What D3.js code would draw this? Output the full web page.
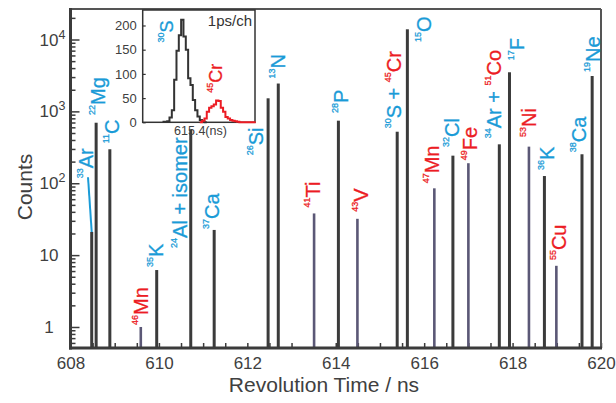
<!DOCTYPE html>
<html>
<head>
<meta charset="utf-8">
<script src="https://cdn.jsdelivr.net/npm/d3@7"></script>
<style>
  body { margin: 0; background: #fff; }
  svg { display: block; }
  text { font-family: "Liberation Sans", Arial, sans-serif; }
</style>
</head>
<body>
<svg id="chart" width="616" height="403"></svg>
<script>
// Peak labels: {..} = mass number (superscript), [..] = part written in red
var peakLabels = ["{33}Ar", "{22}Mg", "{11}C", "{46}Mn", "{35}K", "{24}Al + isomer", "{37}Ca",
                  "{26}Si", "{13}N", "{41}Ti", "{28}P", "{43}V", "{30}S + [{45}Cr]", "{15}O",
                  "{47}Mn", "{32}Cl", "{49}Fe", "{34}Ar + [{51}Co]", "{17}F", "{53}Ni", "{36}K",
                  "{55}Cu", "{38}Ca", "{19}Ne"];
var peakGroup = ["b", "b", "b", "r", "b", "b", "b",
                 "b", "b", "r", "b", "r", "b", "b",
                 "r", "b", "r", "b", "b", "r", "b",
                 "r", "b", "b"];
var peakTimes = [608.48, 608.58, 608.89, 609.59, 609.95, 610.72, 611.25,
                 612.47, 612.70, 613.51, 614.06, 614.49, 615.39, 615.62,
                 616.23, 616.65, 617.00, 617.70, 617.93, 618.37, 618.72,
                 618.99, 619.57, 619.80];
var peakCounts = [21, 695, 297, 1, 6.2, 551, 22.4,
                  1520, 2440, 38, 742, 32, 521, 13870,
                  85, 242, 190, 348, 3500, 323, 126,
                  7.1, 253, 3105];

var xTickLabels = [608, 610, 612, 614, 616, 618, 620];
var yTickLabels = [1, 10, 100, 1000, 10000];

// inset: 1 ps channels around 615.4 ns (offsets in ps)
var insetBlackStart = -16;
var insetBlack = [1, 1, 2, 10, 25, 88, 148, 180, 212, 177, 150, 91, 77, 46, 25, 12, 5, 2, 0];
var insetRedStart = 0;
var insetRed = [0, 3, 8, 22, 30, 33, 37, 45, 44, 30, 22, 11, 8, 5, 3, 2, 1, 0, 0, 0, 0, 0, 0, 0];
var insetTicks = [0, 50, 100, 150, 200];

// label nudges [dx, dy] from the top of each bar
var labelNudge = [[-5.7, -53.7], [1.5, -7.7], [1.5, -6], [0, -2], [-1, -3], [-11, 118], [-2.5, -1],
                  [-12, 57], [0, -5], [-1, -6], [2, -7.7], [3, -7], [-3, -3.4], [16, 12.7],
                  [-3, -5], [-1, -8.7], [1, -3], [-6, -6], [7, -12], [0, -9.7], [2, -6],
                  [2, -5.7], [-3.5, -2], [1, -4]];

var BLUE = "#1a9bd7", RED = "#ec1c24", DARK = "#3b3b3b", PURPLE = "#5b5876";

var svg = d3.select("#chart");
var mLeft = 70.5, mRight = 601, mTop = 9, mBottom = 348;

var x = d3.scaleLinear().domain([608, 620]).range([mLeft, mRight]);
var y = d3.scaleLog().domain([0.51, 26570]).range([mBottom, mTop]);

// x ticks every 0.5 ns, inward
var xAxis = d3.axisBottom(x)
  .tickValues(d3.range(608, 620.001, 0.5))
  .tickSize(-5)
  .tickPadding(9)
  .tickFormat(function(d) { return xTickLabels.indexOf(d) >= 0 ? d : ""; });

var gx = svg.append("g")
  .attr("transform", "translate(0," + mBottom + ")")
  .call(xAxis);
gx.select(".domain").remove();
gx.selectAll("line").attr("stroke", DARK).attr("stroke-width", 1.5);
gx.selectAll("text")
  .attr("font-size", 17)
  .attr("fill", "#404040")
  .style("font-family", "'Liberation Sans', Arial, sans-serif");

// y ticks: log minor + major, inward
var yAxis = d3.axisLeft(y).tickValues(y.ticks()).tickSize(-5).tickFormat("");
var gy = svg.append("g")
  .attr("transform", "translate(" + mLeft + ",0)")
  .call(yAxis);
gy.select(".domain").remove();
gy.selectAll("line")
  .attr("stroke", DARK)
  .attr("stroke-width", 1.5)
  .attr("x2", function(d) { return yTickLabels.indexOf(d) >= 0 ? 9 : 5; });

// y tick labels (powers of ten)
yTickLabels.forEach(function(v) {
  var e = Math.round(Math.log10(v));
  var ty = y(v) + 6;
  if (e < 2) {
    svg.append("text").attr("x", 49).attr("y", ty)
      .attr("text-anchor", "middle").attr("font-size", 17).attr("fill", "#404040")
      .text(v);
  } else {
    svg.append("text").attr("x", 49).attr("y", ty)
      .attr("text-anchor", "middle").attr("font-size", 17).attr("fill", "#404040")
      .text("10");
    svg.append("text").attr("x", 58.5).attr("y", ty - 7)
      .attr("font-size", 12.5).attr("fill", "#404040")
      .text(e);
  }
});

// bars
svg.append("g").selectAll("rect")
  .data(peakTimes)
  .enter().append("rect")
  .attr("x", function(d, i) { return x(d) - (peakGroup[i] === "r" ? 1.3 : 1.5); })
  .attr("width", function(d, i) { return peakGroup[i] === "r" ? 2.6 : 3; })
  .attr("y", function(d, i) { return y(peakCounts[i]); })
  .attr("height", function(d, i) { return mBottom - y(peakCounts[i]); })
  .attr("fill", function(d, i) { return peakGroup[i] === "r" ? PURPLE : DARK; });

// frame
svg.append("line").attr("x1", mLeft).attr("x2", mRight).attr("y1", mTop).attr("y2", mTop)
  .attr("stroke", "#555").attr("stroke-width", 2);
svg.append("line").attr("x1", mRight).attr("x2", mRight).attr("y1", mTop).attr("y2", mBottom)
  .attr("stroke", "#555").attr("stroke-width", 2);
svg.append("line").attr("x1", mLeft).attr("x2", mLeft).attr("y1", mTop - 1).attr("y2", mBottom + 1.5)
  .attr("stroke", DARK).attr("stroke-width", 3);
svg.append("line").attr("x1", mLeft - 1.5).attr("x2", mRight + 1).attr("y1", mBottom).attr("y2", mBottom)
  .attr("stroke", DARK).attr("stroke-width", 3);

// rotated label with superscripts
function addLabel(g, str, baseColor, px, py, size, supSize) {
  var t = g.append("text")
    .attr("transform", "translate(" + px + "," + py + ") rotate(-90)")
    .attr("y", size * 0.36)
    .attr("font-size", size)
    .attr("stroke-width", 0.3)
    .style("white-space", "pre");
  var color = baseColor, sup = false, buf = "", lastSup = false;
  function flush() {
    if (!buf) return;
    var s = t.append("tspan").attr("fill", color).attr("stroke", color).text(buf);
    if (sup) { s.attr("font-size", supSize).attr("dy", -size * 0.5); lastSup = true; }
    else if (lastSup) { s.attr("dy", size * 0.5); lastSup = false; }
    buf = "";
  }
  for (var k = 0; k < str.length; k++) {
    var ch = str[k];
    if (ch === "{") { flush(); sup = true; }
    else if (ch === "}") { flush(); sup = false; }
    else if (ch === "[") { flush(); color = RED; }
    else if (ch === "]") { flush(); color = baseColor; }
    else buf += ch;
  }
  flush();
  return t;
}

var labels = svg.append("g");
peakLabels.forEach(function(s, i) {
  var bx = x(peakTimes[i]), by = y(peakCounts[i]);
  var lx = bx + labelNudge[i][0], ly = by + labelNudge[i][1];
  addLabel(labels, s, peakGroup[i] === "r" ? RED : BLUE, lx, ly, 20, 9);
  if (i === 0) {
    labels.append("line").attr("x1", lx + 2).attr("y1", ly - 1).attr("x2", bx).attr("y2", by)
      .attr("stroke", BLUE).attr("stroke-width", 2);
  }
});

// axis titles
svg.append("text")
  .attr("transform", "translate(31.5,187) rotate(-90)")
  .attr("text-anchor", "middle").attr("font-size", 21).attr("fill", "#404040")
  .text("Counts");
svg.append("text")
  .attr("x", 324).attr("y", 392)
  .attr("text-anchor", "middle").attr("font-size", 21).attr("fill", "#404040")
  .text("Revolution Time / ns");

// inset
var ix = d3.scaleLinear().domain([-24.5, 23.7]).range([142.7, 255]);
var iy = d3.scaleLinear().domain([0, 232]).range([122.3, 10]);

svg.append("rect")
  .attr("x", 142.7).attr("y", 10).attr("width", 255 - 142.7).attr("height", 122.3 - 10)
  .attr("fill", "#fff").attr("stroke", "#333").attr("stroke-width", 1.5);

var step = d3.line().curve(d3.curveStepAfter)
  .x(function(d) { return ix(d[0]); })
  .y(function(d) { return iy(d[1]); });

function stepPoints(start, arr) {
  var pts = arr.map(function(v, i) { return [start + i, v]; });
  pts.push([start + arr.length, arr[arr.length - 1]]);
  return pts;
}

svg.append("path").attr("d", step(stepPoints(insetBlackStart, insetBlack)))
  .attr("fill", "none").attr("stroke", "#333").attr("stroke-width", 2);
svg.append("path").attr("d", step(stepPoints(insetRedStart, insetRed)))
  .attr("fill", "none").attr("stroke", RED).attr("stroke-width", 2);

var iay = d3.axisLeft(iy).tickValues(insetTicks).tickSize(-3).tickPadding(6);
var giy = svg.append("g").attr("transform", "translate(142.7,0)").call(iay);
giy.select(".domain").remove();
giy.selectAll("line").attr("stroke", "#333").attr("stroke-width", 1.2);
giy.selectAll("text").attr("font-size", 13).attr("fill", "#404040")
  .style("font-family", "'Liberation Sans', Arial, sans-serif");

svg.append("text").attr("x", 200.5).attr("y", 134.5)
  .attr("text-anchor", "middle").attr("font-size", 12.5).attr("fill", "#404040")
  .text("615.4(ns)");
svg.append("text").attr("x", 252).attr("y", 25.5)
  .attr("text-anchor", "end").attr("font-size", 15).attr("fill", "#333")
  .text("1ps/ch");

addLabel(svg, "{30}S", BLUE, ix(-14.3), iy(165), 18, 9);
addLabel(svg, "{45}Cr", RED, ix(6.7), iy(61), 18, 9);
</script>
</body>
</html>
